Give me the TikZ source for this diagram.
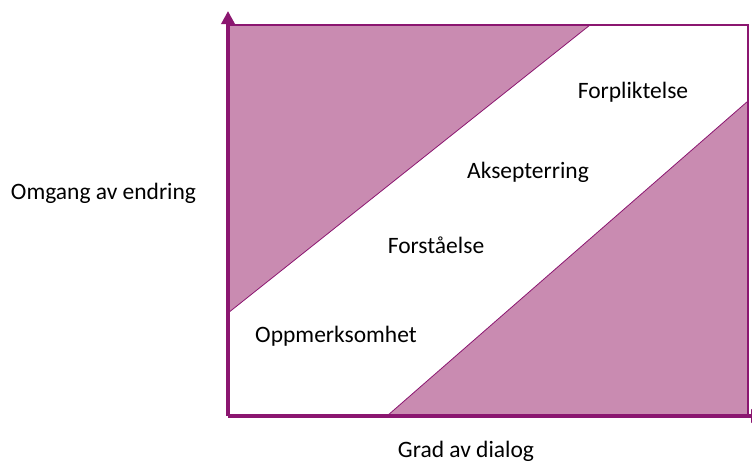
\documentclass[tikz,border=0pt]{standalone}
\usepackage{fontspec}
\setmainfont{Carlito}
\usetikzlibrary{arrows.meta}
\definecolor{zonefill}{RGB}{201,139,177}
\definecolor{axisline}{RGB}{139,22,112}
\tikzset{
  zone/.style={fill=zonefill, draw=axisline, line width=0.8pt, line join=miter},
  frameline/.style={draw=axisline, line width=1.4pt},
  axis/.style={draw=axisline, line width=3.5pt, -{Triangle[width=13pt,length=13pt]}},
  lbl/.style={anchor=base, inner sep=0pt, font=\fontsize{23.5}{28}\selectfont, text=black}
}
\begin{document}
\begin{tikzpicture}[x=1pt, y=-1pt]
  \useasboundingbox (0,0) rectangle (752,463);
  % corners of the plotting frame
  \coordinate (tl) at (228,25);
  \coordinate (tr) at (748,25);
  \coordinate (br) at (748,416);
  \coordinate (bl) at (228,416);
  % shaded zones
  \draw[zone] (tl) -- (590,25) -- (228,313) -- cycle;
  \draw[zone] (387,416) -- (748,101) -- (br) -- cycle;
  % frame
  \draw[frameline] (tl) -- (tr) -- (br);
  % axes
  \coordinate (ytip) at (228,11);
  \coordinate (xtip) at (764,416);
  \draw[axis] (bl) -- (ytip);
  \draw[axis] (bl) -- (xtip);
  % labels
  \node[lbl] (yl) at (103.5,199) {Omgang av endring};
  \node[lbl] (xl) at (466,457) {Grad av dialog};
  \node[lbl] (s1) at (336,342) {Oppmerksomhet};
  \node[lbl] (s2) at (436,253) {Forståelse};
  \node[lbl] (s3) at (528,178) {Aksepterring};
  \node[lbl] (s4) at (633,98) {Forpliktelse};
\end{tikzpicture}
\end{document}
